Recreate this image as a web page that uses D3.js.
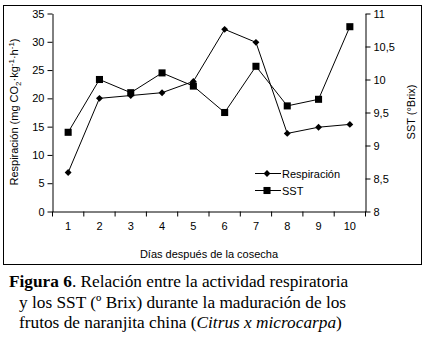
<!DOCTYPE html>
<html>
<head>
<meta charset="utf-8">
<script src="https://cdn.jsdelivr.net/npm/d3@7"></script>
<style>
  body { margin: 0; background: #fff; }
  svg text { font-family: Arial, "Liberation Sans", sans-serif; }
</style>
</head>
<body>
<svg id="chart" width="429" height="337"></svg>
<script>
// days after harvest
const days = [1, 2, 3, 4, 5, 6, 7, 8, 9, 10];
// respiration, mg CO2 kg-1 h-1 (left axis)
const respiracion = [6.9, 20.0, 20.5, 21.0, 23.0, 32.2, 29.9, 13.8, 14.9, 15.4];
// total soluble solids, ºBrix (right axis)
const sst = [9.2, 10.0, 9.8, 10.1, 9.9, 9.5, 10.2, 9.6, 9.7, 10.8];
const leftTicks = [0, 5, 10, 15, 20, 25, 30, 35];
const rightTicks = [8, 8.5, 9, 9.5, 10, 10.5, 11];

const svg = d3.select("#chart");

// outer frame
svg.append("rect")
    .attr("x", 3.5).attr("y", 5.5)
    .attr("width", 418).attr("height", 259)
    .attr("fill", "none").attr("stroke", "#000");

const plot = {left: 52.5, right: 365.5, top: 13.5, bottom: 211.5};

const x = d3.scaleBand().domain(days).range([plot.left, plot.right]);
const yL = d3.scaleLinear().domain([0, 35]).range([plot.bottom, plot.top]);
const yR = d3.scaleLinear().domain([8, 11]).range([plot.bottom, plot.top]);

// axes
const commaNum = v => String(v).replace(".", ",");

const gL = svg.append("g").attr("transform", `translate(${plot.left},0)`)
    .call(d3.axisLeft(yL).tickValues(leftTicks).tickSize(5).tickSizeOuter(0).tickPadding(3));
const gR = svg.append("g").attr("transform", `translate(${plot.right},0)`)
    .call(d3.axisRight(yR).tickValues(rightTicks).tickFormat(commaNum).tickSize(5).tickSizeOuter(0).tickPadding(3));
const gX = svg.append("g").attr("transform", `translate(0,${plot.bottom})`)
    .call(d3.axisBottom(x).tickSize(0).tickPadding(11));

// x ticks sit between the bands
gX.selectAll(".bound")
    .data(d3.range(days.length + 1))
    .join("line")
    .attr("x1", i => plot.left + i * x.step())
    .attr("x2", i => plot.left + i * x.step())
    .attr("y1", 0).attr("y2", 5)
    .attr("stroke", "#000");

[gL, gR, gX].forEach(g => {
  g.selectAll("text").attr("font-size", 11).attr("fill", "#000")
      .style("font-family", "Arial, 'Liberation Sans', sans-serif");
  g.select(".domain").attr("stroke", "#000");
  g.selectAll(".tick line").attr("stroke", "#000");
});

// axis titles
svg.append("text")
    .attr("transform", "translate(18,112) rotate(-90)")
    .attr("text-anchor", "middle").attr("font-size", 11)
    .html('Respiración (mg CO<tspan font-size="8" dy="3">2</tspan><tspan dy="-3">·kg</tspan><tspan font-size="8" dy="-4">-1</tspan><tspan dy="4">·h</tspan><tspan font-size="8" dy="-4">-1</tspan><tspan dy="4">)</tspan>');

svg.append("text")
    .attr("transform", "translate(415,112) rotate(-90)")
    .attr("text-anchor", "middle").attr("font-size", 11)
    .text("SST (°Brix)");

svg.append("text")
    .attr("x", 209).attr("y", 258)
    .attr("text-anchor", "middle").attr("font-size", 11)
    .text("Días después de la cosecha");

// series
const cx = d => x(d) + x.bandwidth() / 2;

const lineResp = d3.line().x((d, i) => cx(days[i])).y(d => yL(d));
const lineSst = d3.line().x((d, i) => cx(days[i])).y(d => yR(d));

svg.append("path").datum(respiracion)
    .attr("d", lineResp).attr("fill", "none").attr("stroke", "#000").attr("stroke-width", 1);
svg.append("path").datum(sst)
    .attr("d", lineSst).attr("fill", "none").attr("stroke", "#000").attr("stroke-width", 1);

const diamond = d3.symbol().type(d3.symbolDiamond2).size(30);
const square = d3.symbol().type(d3.symbolSquare).size(50);

svg.append("g").selectAll("path")
    .data(respiracion)
    .join("path")
    .attr("d", diamond)
    .attr("transform", (d, i) => `translate(${cx(days[i])},${yL(d)})`)
    .attr("fill", "#000");

svg.append("g").selectAll("path")
    .data(sst)
    .join("path")
    .attr("d", square)
    .attr("transform", (d, i) => `translate(${cx(days[i])},${yR(d)})`)
    .attr("fill", "#000");

// legend
const legend = [
  {label: "Respiración", sym: diamond, y: 173.5},
  {label: "SST", sym: square, y: 190.5}
];
const lg = svg.append("g");
legend.forEach(l => {
  lg.append("line").attr("x1", 255).attr("x2", 281).attr("y1", l.y).attr("y2", l.y)
      .attr("stroke", "#000");
  lg.append("path").attr("d", l.sym).attr("transform", `translate(267,${l.y})`).attr("fill", "#000");
  lg.append("text").attr("x", 282).attr("y", l.y + 4).attr("font-size", 11).text(l.label);
});

// caption
const cap = svg.append("g");
cap.append("text").attr("x", 9).attr("y", 287)
    .html('<tspan font-weight="bold">Figura 6</tspan>. Relación entre la actividad respiratoria');
cap.append("text").attr("x", 19).attr("y", 308)
    .text("y los SST (º Brix) durante la maduración de los");
cap.append("text").attr("x", 19).attr("y", 328)
    .html('frutos de naranjita china (<tspan font-style="italic">Citrus x microcarpa</tspan>)');
cap.selectAll("text")
    .style("font-family", "'Liberation Serif', 'Times New Roman', serif")
    .style("font-size", "17.3px");
</script>
</body>
</html>
